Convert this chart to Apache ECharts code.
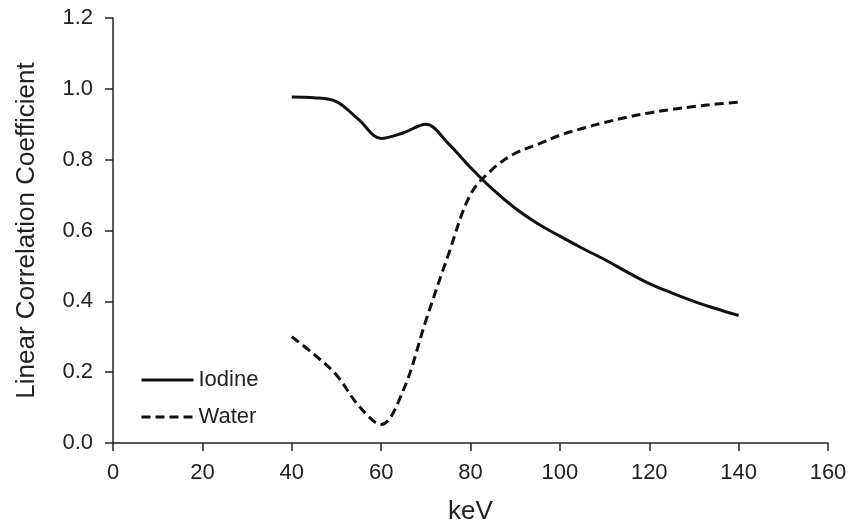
<!DOCTYPE html>
<html>
<head>
<meta charset="utf-8">
<script src="https://cdn.jsdelivr.net/npm/echarts@6/dist/echarts.min.js"></script>
<style>
  html, body { margin: 0; padding: 0; background: #fff; }
  #chart { width: 862px; height: 522px; }
</style>
</head>
<body>
<div id="chart"></div>
<script>
// data (keV steps of 5)
var keV     = [40, 45, 50, 55, 60, 65, 70, 75, 80, 85, 90, 95, 100, 105, 110, 115, 120, 125, 130, 135, 140];
var iodineR = [0.977, 0.975, 0.964, 0.913, 0.860, 0.876, 0.900, 0.846, 0.778, 0.716, 0.663, 0.620, 0.584, 0.550, 0.518, 0.483, 0.450, 0.424, 0.400, 0.379, 0.360];
var waterR  = [0.300, 0.250, 0.192, 0.105, 0.052, 0.150, 0.345, 0.530, 0.702, 0.774, 0.818, 0.843, 0.869, 0.888, 0.905, 0.920, 0.932, 0.942, 0.950, 0.957, 0.962];

var xTicks = [0, 20, 40, 60, 80, 100, 120, 140, 160];
var yTicks = ['0.0', '0.2', '0.4', '0.6', '0.8', '1.0', '1.2'];

function pairs(xs, ys) {
  var out = [];
  for (var i = 0; i < xs.length; i++) {
    out.push([xs[i], ys[i]]);
  }
  return out;
}

var myChart = echarts.init(document.getElementById('chart'));
var axisColor = '#222';
var font = 'Liberation Sans, Arial, sans-serif';

var option = {
  animation: false,
  backgroundColor: '#fff',
  grid: {
    left: 113,
    right: 34,
    top: 18,
    bottom: 79,
    containLabel: false,
    outerBoundsMode: 'none'
  },
  legend: {
    orient: 'vertical',
    left: 135,
    top: 364,
    itemWidth: 52,
    itemHeight: 14,
    itemGap: 15,
    selectedMode: false,
    itemStyle: { opacity: 0 },
    lineStyle: { width: 3 },
    textStyle: { fontFamily: font, fontSize: 22, color: '#222', padding: [0, 0, 0, 0] },
    data: ['Iodine', 'Water']
  },
  xAxis: {
    type: 'value',
    min: xTicks[0],
    max: xTicks[xTicks.length - 1],
    interval: 20,
    name: 'keV',
    nameLocation: 'middle',
    nameGap: 56,
    nameTextStyle: { fontFamily: font, fontSize: 26, color: '#222' },
    axisLine: { show: true, lineStyle: { color: axisColor, width: 1.5 } },
    axisTick: { show: true, inside: false, length: 8, lineStyle: { color: axisColor, width: 1.5 } },
    axisLabel: { fontFamily: font, fontSize: 22, color: '#222', margin: 19 },
    splitLine: { show: false }
  },
  yAxis: {
    type: 'value',
    min: 0,
    max: 1.2,
    interval: 0.2,
    name: 'Linear Correlation Coefficient',
    nameLocation: 'middle',
    nameGap: 73,
    nameTextStyle: { fontFamily: font, fontSize: 26, color: '#222' },
    axisLine: { show: true, lineStyle: { color: axisColor, width: 1.5 } },
    axisTick: { show: true, inside: false, length: 8, lineStyle: { color: axisColor, width: 1.5 } },
    axisLabel: {
      fontFamily: font, fontSize: 22, color: '#222', margin: 20,
      formatter: function (v) { return yTicks[Math.round(v * 5)]; }
    },
    splitLine: { show: false }
  },
  series: [
    {
      name: 'Iodine',
      type: 'line',
      smooth: 0.35,
      symbol: 'none',
      lineStyle: { color: '#111', width: 3, type: 'solid' },
      itemStyle: { color: '#111' },
      data: pairs(keV, iodineR)
    },
    {
      name: 'Water',
      type: 'line',
      smooth: 0.35,
      symbol: 'none',
      lineStyle: { color: '#111', width: 3, type: [9, 5] },
      itemStyle: { color: '#111' },
      data: pairs(keV, waterR)
    }
  ]
};

myChart.setOption(option);
</script>
</body>
</html>
